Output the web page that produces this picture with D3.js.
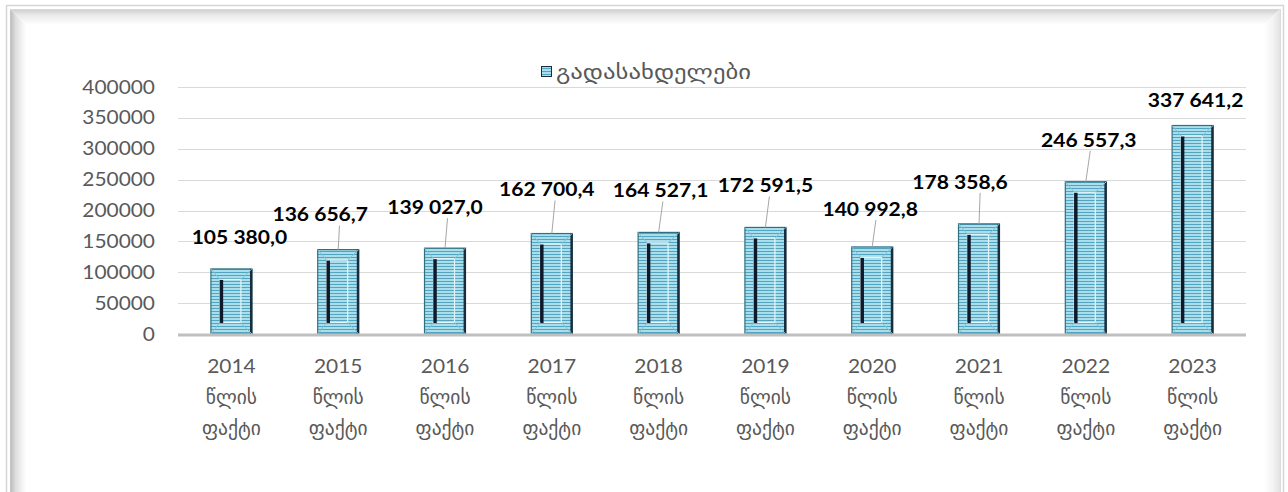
<!DOCTYPE html>
<html><head><meta charset="utf-8">
<script src="https://cdn.jsdelivr.net/npm/d3@7"></script>
<style>html,body{margin:0;padding:0;background:#fff;}svg{display:block;}</style>
</head><body>
<script>
// ---- data ----
const years = ["2014","2015","2016","2017","2018","2019","2020","2021","2022","2023"];
const yearSuffix1 = "წლის";
const yearSuffix2 = "ფაქტი";
const seriesName = "გადასახდელები";
const values = [105380.0, 136656.7, 139027.0, 162700.4, 164527.1, 172591.5, 140992.8, 178358.6, 246557.3, 337641.2];
const yTicks = [0, 50000, 100000, 150000, 200000, 250000, 300000, 350000, 400000];

// ---- layout (manual label placement like the source) ----
const labelDx = [8, -18, -10, -5, 2, 0, -2, -19, 3, 3];
const labelDy = [-32, -35, -41, -44, -42, -42, -38, -42, -42, -25];

const W = 1288, H = 492;
const svg = d3.select("body").append("svg").attr("width", W).attr("height", H);
const defs = svg.append("defs");

// stripes pattern
const pat = defs.append("pattern").attr("id","stripes").attr("patternUnits","userSpaceOnUse")
  .attr("width",6).attr("height",3);
pat.append("rect").attr("width",6).attr("height",3).attr("fill","#abdeeb");
pat.append("rect").attr("y",2).attr("width",6).attr("height",1).attr("fill","#52a5c2");

function lin(id, x1,y1,x2,y2, stops){
  const g = defs.append("linearGradient").attr("id",id).attr("x1",x1).attr("y1",y1).attr("x2",x2).attr("y2",y2);
  stops.forEach(s=>g.append("stop").attr("offset",s[0]).attr("stop-color",s[1]));
}
lin("gl",0,0,1,0,[[0,"#b8b8b8"],[0.35,"#dedede"],[1,"#ffffff"]]);
lin("gt",0,0,0,1,[[0,"#cccccc"],[0.4,"#eaeaea"],[1,"#ffffff"]]);
lin("gr",0,0,1,0,[[0,"#ffffff"],[0.6,"#f2f2f2"],[1,"#e2e2e2"]]);

// frame
svg.append("rect").attr("x",6.5).attr("y",5.5).attr("width",1277).attr("height",540)
  .attr("fill","#fff").attr("stroke","#d6d6d6").attr("stroke-width",1.5);
svg.append("polygon").attr("points","10,9 26,25 26,560 10,560").attr("fill","url(#gl)");
svg.append("polygon").attr("points","10,9 1280,9 1264,25 26,25").attr("fill","url(#gt)");
svg.append("polygon").attr("points","1280,9 1280,560 1264,560 1264,25").attr("fill","url(#gr)");
svg.append("line").attr("x1",10.5).attr("x2",10.5).attr("y1",9).attr("y2",560).attr("stroke","#c4c4c4");
svg.append("line").attr("x1",10).attr("x2",1280).attr("y1",9.5).attr("y2",9.5).attr("stroke","#d8d8d8");
svg.append("line").attr("x1",1280.5).attr("x2",1280.5).attr("y1",9).attr("y2",560).attr("stroke","#dcdcdc");

// scales
const x = d3.scaleBand().domain(years).range([178, 1246]).paddingInner(0.607).paddingOuter(0.3035);
const y = d3.scaleLinear().domain([0, 400000]).range([334, 87]);

const axisColor = "#595959";
const latin = "Lato, 'Open Sans', sans-serif";
const geo = "'DejaVu Sans', sans-serif";

// gridlines
svg.append("g").selectAll("line").data(yTicks.filter(d=>d>0)).join("line")
  .attr("x1",178).attr("x2",1246).attr("y1",d=>Math.round(y(d))+0.5).attr("y2",d=>Math.round(y(d))+0.5)
  .attr("stroke","#d9d9d9").attr("stroke-width",1);

// y axis labels
const yAxis = d3.axisLeft(y).tickValues(yTicks).tickSize(0).tickPadding(0).tickFormat(d3.format("d"));
const gy = svg.append("g").attr("transform","translate(155,0)").call(yAxis);
gy.select(".domain").remove();
gy.selectAll("text").attr("font-family",latin).attr("font-size",19).attr("fill",axisColor)
  .attr("transform","scale(1.1,1)");

// bars
const bw = x.bandwidth();
const bars = svg.append("g").selectAll("g").data(values).join("g")
  .attr("transform",(d,i)=>`translate(${x(years[i])},0)`);
bars.append("rect").attr("x",0.5).attr("y",d=>y(d)).attr("width",bw-1).attr("height",d=>y(0)-y(d))
  .attr("fill","url(#stripes)").attr("stroke","#2f6f80").attr("stroke-width",1.2);
// inner bevel frame
bars.append("rect").attr("x",9.5).attr("y",d=>y(d)+10.5).attr("width",bw-21).attr("height",d=>y(0)-y(d)-22)
  .attr("fill","none").attr("stroke","#e4f5fa").attr("stroke-width",1.2);
// dark inner left edge
bars.append("line").attr("x1",11).attr("x2",11).attr("y1",d=>y(d)+11).attr("y2",d=>y(0)-11)
  .attr("stroke","#0e1a2a").attr("stroke-width",3.5);
// dark outer right edge
bars.append("line").attr("x1",bw-1.2).attr("x2",bw-1.2).attr("y1",d=>y(d)).attr("y2",y(0))
  .attr("stroke","#1a2d3d").attr("stroke-width",2.4);
// bevel diagonals
bars.append("path").attr("d",d=>{const t=y(d), b=y(0);
   return `M0.5,${t} L9.5,${t+10.5} M${bw-0.5},${t} L${bw-11.5},${t+10.5} M0.5,${b} L9.5,${b-11.5} M${bw-0.5},${b} L${bw-11.5},${b-11.5}`;})
  .attr("stroke","#7fc3d6").attr("stroke-width",1).attr("fill","none");

// x axis line
svg.append("line").attr("x1",178).attr("x2",1246).attr("y1",y(0)+1).attr("y2",y(0)+1)
  .attr("stroke","#bfbfbf").attr("stroke-width",3);

// x labels
const xl = svg.append("g").selectAll("g").data(years).join("g")
  .attr("transform",d=>`translate(${x(d)+bw/2},0)`);
xl.append("text").attr("y",366).attr("dy","0.35em").attr("text-anchor","middle")
  .attr("font-family",latin).attr("font-size",19).attr("fill",axisColor).text(d=>d)
  .attr("transform","scale(1.1,1)");
xl.append("text").attr("y",397).attr("dy","0.35em").attr("text-anchor","middle")
  .attr("font-family",geo).attr("font-size",19.5).attr("fill",axisColor).text(yearSuffix1);
xl.append("text").attr("y",428).attr("dy","0.35em").attr("text-anchor","middle")
  .attr("font-family",geo).attr("font-size",19.5).attr("fill",axisColor).text(yearSuffix2);

// data labels
const loc = d3.formatLocale({decimal:",", thousands:" ", grouping:[3], currency:["",""]});
const fmt = loc.format(",.1f");
const lab = svg.append("g").selectAll("g").data(values).join("g");
lab.each(function(d,i){
  const g = d3.select(this);
  const cx = x(years[i]) + bw/2;
  const top = y(d);
  const lx = cx + labelDx[i], ly = top + labelDy[i];
  if (labelDy[i] < -34) {
    g.append("line").attr("x1",cx).attr("x2",cx + labelDx[i]*0.15 + 4).attr("y1",top).attr("y2",ly+11)
      .attr("stroke","#a6a6a6").attr("stroke-width",1);
  }
  g.append("text").attr("transform",`translate(${lx},${ly}) scale(1.08,1)`)
    .attr("text-anchor","middle").attr("dy","0.35em")
    .attr("font-family",latin).attr("font-weight","bold").attr("font-size",19.5).attr("fill","#000")
    .text(fmt(d));
});

// legend
const lg = svg.append("g").attr("transform","translate(541,66)");
lg.append("rect").attr("x",0.5).attr("y",0.5).attr("width",10).attr("height",10)
  .attr("fill","url(#stripes)").attr("stroke","#1a2d3d").attr("stroke-width",1);
lg.append("text").attr("transform","translate(15,6) scale(1.3,1)").attr("dy","0.35em").attr("font-family",geo)
  .attr("font-size",19).attr("fill",axisColor).text(seriesName);
</script>
</body></html>
